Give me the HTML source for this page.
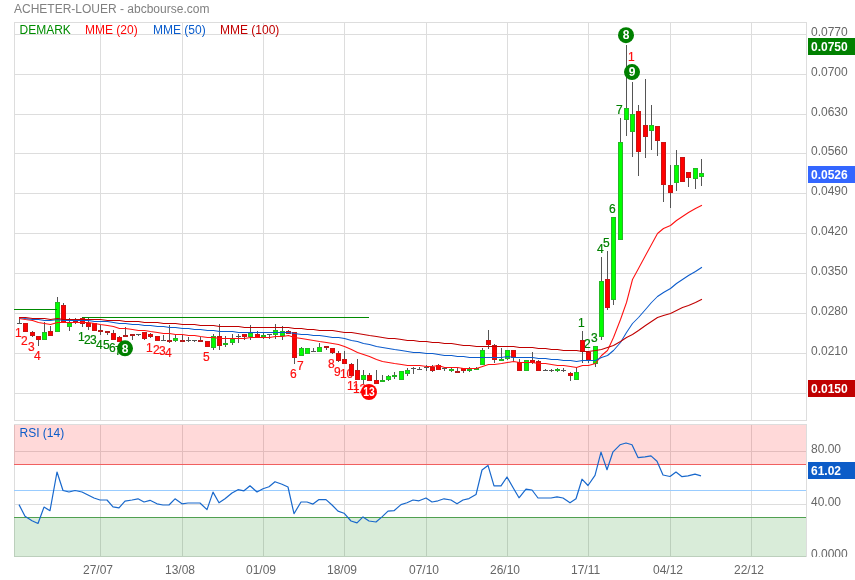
<!DOCTYPE html>
<html><head><meta charset="utf-8"><title>ACHETER-LOUER - abcbourse.com</title>
<style>
html,body{margin:0;padding:0;background:#fff;}
body{width:855px;height:580px;overflow:hidden;font-family:"Liberation Sans",Arial,sans-serif;}
svg{display:block;}
text{font-family:"Liberation Sans",Arial,sans-serif;font-size:12px;}
.ax{fill:#666;}
.g{stroke:#ddd;stroke-width:1;shape-rendering:crispEdges;fill:none;}
.g2{stroke:#000;stroke-opacity:.13;stroke-width:1;shape-rendering:crispEdges;}
.c rect{shape-rendering:crispEdges;}
.w{fill:#555;}
.gb{fill:#26b826;}.gi{fill:#0f0;}.rb{fill:#c81414;}.ri{fill:#f00;}.rs{fill:#b41a1a;}.gs{fill:#1fb41f;}
.ma{fill:none;stroke-width:1.05;stroke-linejoin:round;stroke-linecap:butt;}
.lr{fill:#ff1010;stroke:#ff1010;stroke-width:.2;}.lg{fill:#008000;stroke:#008000;stroke-width:.2;}
.k{fill:#fff;font-weight:bold;text-anchor:middle;}
</style></head><body>
<svg width="855" height="580" viewBox="0 0 855 580">
<rect x="0" y="0" width="855" height="580" fill="#fff"/>
<g id="grid">
<line class="g" x1="100.5" y1="22" x2="100.5" y2="421"/><line class="g" x1="100.5" y1="424" x2="100.5" y2="557"/>
<line class="g" x1="182.5" y1="22" x2="182.5" y2="421"/><line class="g" x1="182.5" y1="424" x2="182.5" y2="557"/>
<line class="g" x1="263.5" y1="22" x2="263.5" y2="421"/><line class="g" x1="263.5" y1="424" x2="263.5" y2="557"/>
<line class="g" x1="344.5" y1="22" x2="344.5" y2="421"/><line class="g" x1="344.5" y1="424" x2="344.5" y2="557"/>
<line class="g" x1="426.5" y1="22" x2="426.5" y2="421"/><line class="g" x1="426.5" y1="424" x2="426.5" y2="557"/>
<line class="g" x1="507.5" y1="22" x2="507.5" y2="421"/><line class="g" x1="507.5" y1="424" x2="507.5" y2="557"/>
<line class="g" x1="588.5" y1="22" x2="588.5" y2="421"/><line class="g" x1="588.5" y1="424" x2="588.5" y2="557"/>
<line class="g" x1="670.5" y1="22" x2="670.5" y2="421"/><line class="g" x1="670.5" y1="424" x2="670.5" y2="557"/>
<line class="g" x1="751.5" y1="22" x2="751.5" y2="421"/><line class="g" x1="751.5" y1="424" x2="751.5" y2="557"/>
<line class="g" x1="14" y1="34.5" x2="806" y2="34.5"/>
<line class="g" x1="14" y1="74.5" x2="806" y2="74.5"/>
<line class="g" x1="14" y1="114.5" x2="806" y2="114.5"/>
<line class="g" x1="14" y1="153.5" x2="806" y2="153.5"/>
<line class="g" x1="14" y1="193.5" x2="806" y2="193.5"/>
<line class="g" x1="14" y1="233.5" x2="806" y2="233.5"/>
<line class="g" x1="14" y1="273.5" x2="806" y2="273.5"/>
<line class="g" x1="14" y1="313.5" x2="806" y2="313.5"/>
<line class="g" x1="14" y1="353.5" x2="806" y2="353.5"/>
<line class="g" x1="14" y1="393.5" x2="806" y2="393.5"/>
<line class="g" x1="14" y1="451.5" x2="806" y2="451.5"/>
<line class="g" x1="14" y1="504.5" x2="806" y2="504.5"/>
<rect x="14.5" y="22.5" width="792" height="398" class="g"/>
<rect x="14.5" y="424.5" width="792" height="132" class="g"/>
<rect x="14" y="425" width="792" height="39.5" fill="#f00" fill-opacity=".15"/>
<rect x="14" y="517.5" width="792" height="39.5" fill="#008000" fill-opacity=".15"/>
<line x1="14" y1="464.5" x2="806" y2="464.5" stroke="#f06060" stroke-width="1" shape-rendering="crispEdges"/>
<line x1="14" y1="490.5" x2="806" y2="490.5" stroke="#9cf" stroke-width="1" shape-rendering="crispEdges"/>
<line x1="14" y1="517.5" x2="806" y2="517.5" stroke="#50a050" stroke-width="1" shape-rendering="crispEdges"/>
</g>
<text x="14" y="13" fill="#808080">ACHETER-LOUER - abcbourse.com</text>
<g stroke-width="0">
<text x="19.5" y="34" fill="#008c00" stroke="#008c00">DEMARK</text>
<text x="85" y="34" fill="#ff0808" stroke="#ff0808">MME (20)</text>
<text x="153" y="34" fill="#0a5ccc" stroke="#0a5ccc">MME (50)</text>
<text x="220" y="34" fill="#c00000" stroke="#c00000">MME (100)</text>
<text x="19.5" y="437.3" fill="#0c5cc8" stroke="#0c5cc8">RSI (14)</text>
</g>
<text class="ax" x="811" y="35.8">0.0770</text>
<text class="ax" x="811" y="75.8">0.0700</text>
<text class="ax" x="811" y="115.8">0.0630</text>
<text class="ax" x="811" y="154.8">0.0560</text>
<text class="ax" x="811" y="194.8">0.0490</text>
<text class="ax" x="811" y="234.8">0.0420</text>
<text class="ax" x="811" y="274.8">0.0350</text>
<text class="ax" x="811" y="314.8">0.0280</text>
<text class="ax" x="811" y="354.8">0.0210</text>
<text class="ax" x="811" y="453">80.00</text>
<text class="ax" x="811" y="506">40.00</text>
<clipPath id="cb"><rect x="800" y="540" width="55" height="17"/></clipPath>
<text class="ax" x="811" y="558.3" clip-path="url(#cb)">0.0000</text>
<text class="ax" x="83" y="574">27/07</text>
<text class="ax" x="165" y="574">13/08</text>
<text class="ax" x="246" y="574">01/09</text>
<text class="ax" x="327" y="574">18/09</text>
<text class="ax" x="409" y="574">07/10</text>
<text class="ax" x="490" y="574">26/10</text>
<text class="ax" x="571" y="574">17/11</text>
<text class="ax" x="653" y="574">04/12</text>
<text class="ax" x="734" y="574">22/12</text>
<rect x="808" y="38" width="47" height="17" fill="#008000"/><text x="811" y="50.8" fill="#fff" font-weight="bold">0.0750</text>
<rect x="808" y="166" width="47" height="17" fill="#3366ff"/><text x="811" y="178.8" fill="#fff" font-weight="bold">0.0526</text>
<rect x="808" y="380" width="47" height="17" fill="#c00000"/><text x="811" y="392.8" fill="#fff" font-weight="bold">0.0150</text>
<rect x="808" y="462" width="47" height="17" fill="#0c5cc8"/><text x="811" y="474.8" fill="#fff" font-weight="bold">61.02</text>
<text class="lr" x="14.9" y="336.5">1</text>
<text class="lr" x="20.9" y="344.7">2</text>
<text class="lr" x="27.9" y="350.7">3</text>
<text class="lr" x="33.9" y="359.6">4</text>
<text class="lg" x="77.9" y="340.9">1</text>
<text class="lg" x="83.9" y="344">2</text>
<text class="lg" x="89.9" y="344.3">3</text>
<text class="lg" x="95.9" y="348.6">4</text>
<text class="lg" x="102.9" y="348.7">5</text>
<text class="lg" x="108.9" y="352.3">6</text>
<text class="lg" x="114.9" y="355.4">7</text>
<text class="lr" x="145.9" y="351.9">1</text>
<text class="lr" x="152.9" y="353.75">2</text>
<text class="lr" x="158.9" y="355">3</text>
<text class="lr" x="164.9" y="357">4</text>
<text class="lr" x="202.9" y="360.6">5</text>
<text class="lr" x="289.9" y="377.6">6</text>
<text class="lr" x="296.9" y="370.2">7</text>
<text class="lr" x="327.9" y="367.6">8</text>
<text class="lr" x="333.9" y="375.9">9</text>
<text class="lr" x="339.9" y="377.7">10</text>
<text class="lr" x="346.9" y="389.7">11</text>
<text class="lr" x="352.9" y="392.6">12</text>
<text class="lg" x="577.9" y="326.9">1</text>
<text class="lg" x="583.9" y="347.5">2</text>
<text class="lg" x="590.9" y="341.5">3</text>
<text class="lg" x="596.9" y="253.3">4</text>
<text class="lg" x="602.9" y="247.1">5</text>
<text class="lg" x="608.9" y="213">6</text>
<text class="lg" x="615.9" y="113.75">7</text>
<text class="lr" x="627.9" y="60.6">1</text>
<g class="c">
<rect class="w" x="19" y="318" width="1" height="6"/><rect class="w" x="17" y="323" width="5" height="1"/>
<rect class="w" x="25" y="323" width="1" height="9"/><rect class="rb" x="23" y="323" width="5" height="9"/><rect class="ri" x="24" y="324" width="3" height="7"/>
<rect class="w" x="32" y="331" width="1" height="6"/><rect class="rb" x="30" y="332" width="5" height="4"/><rect class="ri" x="31" y="333" width="3" height="2"/>
<rect class="w" x="38" y="336" width="1" height="10"/><rect class="rb" x="36" y="336" width="5" height="4"/><rect class="ri" x="37" y="337" width="3" height="2"/>
<rect class="w" x="44" y="322" width="1" height="18"/><rect class="gb" x="42" y="332" width="5" height="8"/><rect class="gi" x="43" y="333" width="3" height="6"/>
<rect class="w" x="50" y="326" width="1" height="10"/><rect class="rb" x="48" y="331" width="5" height="5"/><rect class="ri" x="49" y="332" width="3" height="3"/>
<rect class="w" x="57" y="297" width="1" height="35"/><rect class="gb" x="55" y="302" width="5" height="30"/><rect class="gi" x="56" y="303" width="3" height="28"/>
<rect class="w" x="63" y="303" width="1" height="20"/><rect class="rb" x="61" y="305" width="5" height="18"/><rect class="ri" x="62" y="306" width="3" height="16"/>
<rect class="w" x="69" y="318" width="1" height="13"/><rect class="gb" x="67" y="323" width="5" height="4"/><rect class="gi" x="68" y="324" width="3" height="2"/>
<rect class="w" x="75" y="318" width="1" height="6"/><rect class="rs" x="73" y="320" width="5" height="2"/>
<rect class="w" x="82" y="318" width="1" height="9"/><rect class="rb" x="80" y="318" width="5" height="6"/><rect class="ri" x="81" y="319" width="3" height="4"/>
<rect class="w" x="88" y="318" width="1" height="12"/><rect class="rb" x="86" y="323" width="5" height="4"/><rect class="ri" x="87" y="324" width="3" height="2"/>
<rect class="w" x="94" y="323" width="1" height="8"/><rect class="rb" x="92" y="323" width="5" height="8"/><rect class="ri" x="93" y="324" width="3" height="6"/>
<rect class="w" x="100" y="325" width="1" height="10"/><rect class="rs" x="98" y="330" width="5" height="2"/>
<rect class="w" x="107" y="331" width="1" height="4"/><rect class="rs" x="105" y="331" width="5" height="2"/>
<rect class="w" x="113" y="330" width="1" height="10"/><rect class="rb" x="111" y="333" width="5" height="7"/><rect class="ri" x="112" y="334" width="3" height="5"/>
<rect class="w" x="119" y="336" width="1" height="6"/><rect class="rb" x="117" y="337" width="5" height="5"/><rect class="ri" x="118" y="338" width="3" height="3"/>
<rect class="w" x="125" y="327" width="1" height="10"/><rect class="rs" x="123" y="335" width="5" height="2"/>
<rect class="w" x="132" y="334" width="1" height="6"/><rect class="rs" x="130" y="334" width="5" height="2"/>
<rect class="w" x="138" y="334" width="1" height="2"/><rect class="w" x="136" y="334" width="5" height="1"/>
<rect class="w" x="144" y="332" width="1" height="8"/><rect class="rb" x="142" y="332" width="5" height="7"/><rect class="ri" x="143" y="333" width="3" height="5"/>
<rect class="w" x="150" y="333" width="1" height="5"/><rect class="rb" x="148" y="334" width="5" height="3"/><rect class="ri" x="149" y="335" width="3" height="1"/>
<rect class="w" x="157" y="336" width="1" height="5"/><rect class="rb" x="155" y="336" width="5" height="5"/><rect class="ri" x="156" y="337" width="3" height="3"/>
<rect class="w" x="163" y="335" width="1" height="6"/><rect class="w" x="161" y="340" width="5" height="1"/>
<rect class="w" x="169" y="325" width="1" height="18"/><rect class="rs" x="167" y="340" width="5" height="2"/>
<rect class="w" x="175" y="335" width="1" height="7"/><rect class="gb" x="173" y="338" width="5" height="3"/><rect class="gi" x="174" y="339" width="3" height="1"/>
<rect class="w" x="182" y="334" width="1" height="8"/><rect class="rs" x="180" y="340" width="5" height="2"/>
<rect class="w" x="188" y="337" width="1" height="5"/><rect class="w" x="186" y="340" width="5" height="1"/>
<rect class="w" x="194" y="340" width="1" height="2"/><rect class="w" x="192" y="340" width="5" height="1"/>
<rect class="w" x="200" y="337" width="1" height="5"/><rect class="rs" x="198" y="340" width="5" height="2"/>
<rect class="w" x="207" y="341" width="1" height="6"/><rect class="rb" x="205" y="341" width="5" height="6"/><rect class="ri" x="206" y="342" width="3" height="4"/>
<rect class="w" x="213" y="334" width="1" height="16"/><rect class="gb" x="211" y="336" width="5" height="12"/><rect class="gi" x="212" y="337" width="3" height="10"/>
<rect class="w" x="219" y="324" width="1" height="26"/><rect class="rb" x="217" y="336" width="5" height="10"/><rect class="ri" x="218" y="337" width="3" height="8"/>
<rect class="w" x="225" y="336" width="1" height="11"/><rect class="gs" x="223" y="343" width="5" height="2"/>
<rect class="w" x="232" y="334" width="1" height="11"/><rect class="gb" x="230" y="339" width="5" height="4"/><rect class="gi" x="231" y="340" width="3" height="2"/>
<rect class="w" x="238" y="334" width="1" height="9"/><rect class="w" x="236" y="336" width="5" height="1"/>
<rect class="w" x="244" y="334" width="1" height="6"/><rect class="rb" x="242" y="334" width="5" height="3"/><rect class="ri" x="243" y="335" width="3" height="1"/>
<rect class="w" x="250" y="325" width="1" height="15"/><rect class="gb" x="248" y="333" width="5" height="4"/><rect class="gi" x="249" y="334" width="3" height="2"/>
<rect class="w" x="257" y="331" width="1" height="7"/><rect class="rb" x="255" y="334" width="5" height="4"/><rect class="ri" x="256" y="335" width="3" height="2"/>
<rect class="w" x="263" y="333" width="1" height="6"/><rect class="gs" x="261" y="335" width="5" height="2"/>
<rect class="w" x="269" y="334" width="1" height="5"/><rect class="w" x="267" y="334" width="5" height="1"/>
<rect class="w" x="275" y="324" width="1" height="15"/><rect class="gb" x="273" y="330" width="5" height="5"/><rect class="gi" x="274" y="331" width="3" height="3"/>
<rect class="w" x="282" y="326" width="1" height="14"/><rect class="gb" x="280" y="331" width="5" height="5"/><rect class="gi" x="281" y="332" width="3" height="3"/>
<rect class="w" x="288" y="330" width="1" height="4"/><rect class="rb" x="286" y="331" width="5" height="3"/><rect class="ri" x="287" y="332" width="3" height="1"/>
<rect class="w" x="294" y="332" width="1" height="32"/><rect class="rb" x="292" y="332" width="5" height="26"/><rect class="ri" x="293" y="333" width="3" height="24"/>
<rect class="w" x="301" y="347" width="1" height="9"/><rect class="gb" x="299" y="348" width="5" height="8"/><rect class="gi" x="300" y="349" width="3" height="6"/>
<rect class="w" x="307" y="348" width="1" height="6"/><rect class="gb" x="305" y="348" width="5" height="6"/><rect class="gi" x="306" y="349" width="3" height="4"/>
<rect class="w" x="313" y="348" width="1" height="4"/><rect class="w" x="311" y="351" width="5" height="1"/>
<rect class="w" x="319" y="343" width="1" height="9"/><rect class="gb" x="317" y="347" width="5" height="5"/><rect class="gi" x="318" y="348" width="3" height="3"/>
<rect class="w" x="326" y="346" width="1" height="4"/><rect class="rs" x="324" y="346" width="5" height="2"/>
<rect class="w" x="332" y="348" width="1" height="6"/><rect class="rb" x="330" y="348" width="5" height="5"/><rect class="ri" x="331" y="349" width="3" height="3"/>
<rect class="w" x="338" y="351" width="1" height="11"/><rect class="rb" x="336" y="353" width="5" height="8"/><rect class="ri" x="337" y="354" width="3" height="6"/>
<rect class="w" x="344" y="351" width="1" height="13"/><rect class="rb" x="342" y="359" width="5" height="5"/><rect class="ri" x="343" y="360" width="3" height="3"/>
<rect class="w" x="351" y="363" width="1" height="13"/><rect class="rb" x="349" y="364" width="5" height="12"/><rect class="ri" x="350" y="365" width="3" height="10"/>
<rect class="w" x="357" y="359" width="1" height="21"/><rect class="rb" x="355" y="370" width="5" height="10"/><rect class="ri" x="356" y="371" width="3" height="8"/>
<rect class="w" x="363" y="370" width="1" height="14"/><rect class="gb" x="361" y="375" width="5" height="5"/><rect class="gi" x="362" y="376" width="3" height="3"/>
<rect class="w" x="369" y="373" width="1" height="8"/><rect class="rb" x="367" y="375" width="5" height="6"/><rect class="ri" x="368" y="376" width="3" height="4"/>
<rect class="w" x="376" y="370" width="1" height="14"/><rect class="rb" x="374" y="380" width="5" height="4"/><rect class="ri" x="375" y="381" width="3" height="2"/>
<rect class="w" x="382" y="375" width="1" height="7"/><rect class="gs" x="380" y="380" width="5" height="2"/>
<rect class="w" x="388" y="375" width="1" height="6"/><rect class="gb" x="386" y="376" width="5" height="4"/><rect class="gi" x="387" y="377" width="3" height="2"/>
<rect class="w" x="394" y="372" width="1" height="7"/><rect class="gs" x="392" y="375" width="5" height="2"/>
<rect class="w" x="401" y="371" width="1" height="9"/><rect class="gb" x="399" y="371" width="5" height="9"/><rect class="gi" x="400" y="372" width="3" height="7"/>
<rect class="w" x="407" y="368" width="1" height="8"/><rect class="gb" x="405" y="370" width="5" height="4"/><rect class="gi" x="406" y="371" width="3" height="2"/>
<rect class="w" x="413" y="367" width="1" height="7"/><rect class="w" x="411" y="368" width="5" height="1"/>
<rect class="w" x="419" y="367" width="1" height="3"/><rect class="w" x="417" y="369" width="5" height="1"/>
<rect class="w" x="426" y="365" width="1" height="6"/><rect class="w" x="424" y="367" width="5" height="1"/>
<rect class="w" x="432" y="365" width="1" height="7"/><rect class="rb" x="430" y="367" width="5" height="4"/><rect class="ri" x="431" y="368" width="3" height="2"/>
<rect class="w" x="438" y="364" width="1" height="6"/><rect class="rb" x="436" y="365" width="5" height="5"/><rect class="ri" x="437" y="366" width="3" height="3"/>
<rect class="w" x="444" y="368" width="1" height="3"/><rect class="w" x="442" y="368" width="5" height="1"/>
<rect class="w" x="451" y="368" width="1" height="4"/><rect class="gs" x="449" y="369" width="5" height="2"/>
<rect class="w" x="457" y="368" width="1" height="5"/><rect class="rs" x="455" y="371" width="5" height="2"/>
<rect class="w" x="463" y="368" width="1" height="5"/><rect class="rb" x="461" y="368" width="5" height="3"/><rect class="ri" x="462" y="369" width="3" height="1"/>
<rect class="w" x="469" y="367" width="1" height="5"/><rect class="gs" x="467" y="369" width="5" height="2"/>
<rect class="w" x="476" y="367" width="1" height="3"/><rect class="gs" x="474" y="368" width="5" height="2"/>
<rect class="w" x="482" y="348" width="1" height="17"/><rect class="gb" x="480" y="350" width="5" height="15"/><rect class="gi" x="481" y="351" width="3" height="13"/>
<rect class="w" x="488" y="330" width="1" height="19"/><rect class="rb" x="486" y="340" width="5" height="5"/><rect class="ri" x="487" y="341" width="3" height="3"/>
<rect class="w" x="494" y="344" width="1" height="19"/><rect class="rb" x="492" y="345" width="5" height="15"/><rect class="ri" x="493" y="346" width="3" height="13"/>
<rect class="w" x="501" y="348" width="1" height="13"/><rect class="gs" x="499" y="359" width="5" height="2"/>
<rect class="w" x="507" y="350" width="1" height="10"/><rect class="gb" x="505" y="350" width="5" height="9"/><rect class="gi" x="506" y="351" width="3" height="7"/>
<rect class="w" x="513" y="350" width="1" height="11"/><rect class="rb" x="511" y="350" width="5" height="8"/><rect class="ri" x="512" y="351" width="3" height="6"/>
<rect class="w" x="519" y="359" width="1" height="12"/><rect class="rb" x="517" y="362" width="5" height="9"/><rect class="ri" x="518" y="363" width="3" height="7"/>
<rect class="w" x="526" y="360" width="1" height="11"/><rect class="gb" x="524" y="360" width="5" height="11"/><rect class="gi" x="525" y="361" width="3" height="9"/>
<rect class="w" x="532" y="352" width="1" height="12"/><rect class="rb" x="530" y="360" width="5" height="3"/><rect class="ri" x="531" y="361" width="3" height="1"/>
<rect class="w" x="538" y="360" width="1" height="11"/><rect class="rb" x="536" y="361" width="5" height="10"/><rect class="ri" x="537" y="362" width="3" height="8"/>
<rect class="w" x="545" y="369" width="1" height="2"/><rect class="w" x="543" y="370" width="5" height="1"/>
<rect class="w" x="551" y="369" width="1" height="3"/><rect class="w" x="549" y="370" width="5" height="1"/>
<rect class="w" x="557" y="368" width="1" height="4"/><rect class="gs" x="555" y="369" width="5" height="2"/>
<rect class="w" x="563" y="368" width="1" height="4"/><rect class="w" x="561" y="370" width="5" height="1"/>
<rect class="w" x="570" y="372" width="1" height="9"/><rect class="rb" x="568" y="373" width="5" height="3"/><rect class="ri" x="569" y="374" width="3" height="1"/>
<rect class="w" x="576" y="368" width="1" height="12"/><rect class="gb" x="574" y="372" width="5" height="8"/><rect class="gi" x="575" y="373" width="3" height="6"/>
<rect class="w" x="582" y="331" width="1" height="32"/><rect class="rb" x="580" y="340" width="5" height="12"/><rect class="ri" x="581" y="341" width="3" height="10"/>
<rect class="w" x="588" y="351" width="1" height="12"/><rect class="rb" x="586" y="352" width="5" height="8"/><rect class="ri" x="587" y="353" width="3" height="6"/>
<rect class="w" x="595" y="346" width="1" height="21"/><rect class="gb" x="593" y="346" width="5" height="18"/><rect class="gi" x="594" y="347" width="3" height="16"/>
<rect class="w" x="601" y="257" width="1" height="83"/><rect class="gb" x="599" y="281" width="5" height="56"/><rect class="gi" x="600" y="282" width="3" height="54"/>
<rect class="w" x="607" y="251" width="1" height="59"/><rect class="rb" x="605" y="279" width="5" height="29"/><rect class="ri" x="606" y="280" width="3" height="27"/>
<rect class="w" x="613" y="217" width="1" height="88"/><rect class="gb" x="611" y="217" width="5" height="83"/><rect class="gi" x="612" y="218" width="3" height="81"/>
<rect class="w" x="620" y="118" width="1" height="122"/><rect class="gb" x="618" y="142" width="5" height="98"/><rect class="gi" x="619" y="143" width="3" height="96"/>
<rect class="w" x="626" y="45" width="1" height="91"/><rect class="gb" x="624" y="108" width="5" height="12"/><rect class="gi" x="625" y="109" width="3" height="10"/>
<rect class="w" x="632" y="82" width="1" height="75"/><rect class="gb" x="630" y="114" width="5" height="18"/><rect class="gi" x="631" y="115" width="3" height="16"/>
<rect class="w" x="638" y="105" width="1" height="71"/><rect class="rb" x="636" y="111" width="5" height="41"/><rect class="ri" x="637" y="112" width="3" height="39"/>
<rect class="w" x="645" y="79" width="1" height="79"/><rect class="rb" x="643" y="125" width="5" height="12"/><rect class="ri" x="644" y="126" width="3" height="10"/>
<rect class="w" x="651" y="105" width="1" height="45"/><rect class="gb" x="649" y="125" width="5" height="6"/><rect class="gi" x="650" y="126" width="3" height="4"/>
<rect class="w" x="657" y="126" width="1" height="30"/><rect class="rb" x="655" y="126" width="5" height="15"/><rect class="ri" x="656" y="127" width="3" height="13"/>
<rect class="w" x="663" y="142" width="1" height="60"/><rect class="rb" x="661" y="142" width="5" height="43"/><rect class="ri" x="662" y="143" width="3" height="41"/>
<rect class="w" x="670" y="165" width="1" height="43"/><rect class="rb" x="668" y="185" width="5" height="8"/><rect class="ri" x="669" y="186" width="3" height="6"/>
<rect class="w" x="676" y="150" width="1" height="41"/><rect class="gb" x="674" y="165" width="5" height="18"/><rect class="gi" x="675" y="166" width="3" height="16"/>
<rect class="w" x="682" y="157" width="1" height="25"/><rect class="rb" x="680" y="157" width="5" height="25"/><rect class="ri" x="681" y="158" width="3" height="23"/>
<rect class="w" x="688" y="172" width="1" height="15"/><rect class="rb" x="686" y="172" width="5" height="6"/><rect class="ri" x="687" y="173" width="3" height="4"/>
<rect class="w" x="695" y="168" width="1" height="21"/><rect class="gb" x="693" y="168" width="5" height="11"/><rect class="gi" x="694" y="169" width="3" height="9"/>
<rect class="w" x="701" y="159" width="1" height="27"/><rect class="gb" x="699" y="173" width="5" height="4"/><rect class="gi" x="700" y="174" width="3" height="2"/>
</g>
<path d="M14 309.5H57M82 317.5H369" stroke="#008a00" stroke-width="1" fill="none" shape-rendering="crispEdges"/>
<path class="ma" d="M19.5 318.5 L25.5 319.5 L32.5 320.5 L38.5 322.5 L44.5 323.5 L50.5 324.5 L57.5 322.5 L63.5 322.5 L69.5 322.5 L75.5 322.5 L82.5 322.5 L88.5 322.5 L94.5 323.5 L100.5 324.5 L107.5 325.5 L113.5 326.5 L119.5 328.5 L125.5 328.5 L132.5 329.5 L138.5 330.5 L144.5 330.5 L150.5 331.5 L157.5 332.5 L163.5 333.5 L169.5 333.5 L175.5 334.5 L182.5 334.5 L188.5 335.5 L194.5 335.5 L200.5 336.5 L207.5 337.5 L213.5 337.5 L219.5 338.5 L225.5 338.5 L232.5 338.5 L238.5 338.5 L244.5 338.5 L250.5 337.5 L257.5 337.5 L263.5 337.5 L269.5 337.5 L275.5 336.5 L282.5 336.5 L288.5 335.5 L294.5 337.5 L301.5 338.5 L307.5 339.5 L313.5 340.5 L319.5 341.5 L326.5 342.5 L332.5 343.5 L338.5 344.5 L344.5 346.5 L351.5 349.5 L357.5 352.5 L363.5 354.5 L369.5 356.5 L376.5 359.5 L382.5 361.5 L388.5 362.5 L394.5 363.5 L401.5 364.5 L407.5 365.5 L413.5 365.5 L419.5 365.5 L426.5 366.5 L432.5 366.5 L438.5 365.5 L444.5 367.5 L451.5 367.5 L457.5 367.5 L463.5 368.5 L469.5 368.5 L476.5 368.5 L482.5 366.5 L488.5 364.5 L494.5 364.5 L501.5 363.5 L507.5 362.5 L513.5 361.5 L519.5 362.5 L526.5 362.5 L532.5 362.5 L538.5 363.5 L545.5 363.5 L551.5 364.5 L557.5 365.5 L563.5 365.5 L570.5 366.5 L576.5 367.5 L582.5 365.5 L588.5 365.5 L595.5 363.5 L601.5 355.5 L607.5 350.5 L613.5 337.5 L620.5 319.5 L626.5 302.5 L632.5 279.5 L638.5 268.5 L645.5 255.5 L651.5 244.5 L657.5 233.5 L663.5 228.5 L670.5 225.5 L676.5 220.5 L682.5 216.5 L688.5 212.5 L695.5 208.5 L701.5 205.5" stroke="#ff1010" style="stroke-linecap:square"/>
<path class="ma" d="M19.5 317.5 L25.5 318.5 L32.5 319.5 L38.5 319.5 L44.5 320.5 L50.5 320.5 L57.5 319.5 L63.5 320.5 L69.5 320.5 L75.5 320.5 L82.5 320.5 L88.5 320.5 L94.5 321.5 L100.5 321.5 L107.5 321.5 L113.5 322.5 L119.5 323.5 L125.5 323.5 L132.5 324.5 L138.5 324.5 L144.5 325.5 L150.5 325.5 L157.5 326.5 L163.5 326.5 L169.5 327.5 L175.5 327.5 L182.5 328.5 L188.5 328.5 L194.5 329.5 L200.5 329.5 L207.5 330.5 L213.5 330.5 L219.5 331.5 L225.5 331.5 L232.5 331.5 L238.5 332.5 L244.5 332.5 L250.5 332.5 L257.5 332.5 L263.5 332.5 L269.5 332.5 L275.5 332.5 L282.5 332.5 L288.5 332.5 L294.5 333.5 L301.5 334.5 L307.5 334.5 L313.5 335.5 L319.5 335.5 L326.5 336.5 L332.5 337.5 L338.5 337.5 L344.5 338.5 L351.5 340.5 L357.5 341.5 L363.5 343.5 L369.5 344.5 L376.5 346.5 L382.5 347.5 L388.5 348.5 L394.5 349.5 L401.5 350.5 L407.5 351.5 L413.5 352.5 L419.5 352.5 L426.5 353.5 L432.5 353.5 L438.5 354.5 L444.5 355.5 L451.5 355.5 L457.5 356.5 L463.5 356.5 L469.5 357.5 L476.5 357.5 L482.5 357.5 L488.5 357.5 L494.5 357.5 L501.5 357.5 L507.5 356.5 L513.5 357.5 L519.5 357.5 L526.5 357.5 L532.5 357.5 L538.5 358.5 L545.5 358.5 L551.5 359.5 L557.5 359.5 L563.5 360.5 L570.5 360.5 L576.5 361.5 L582.5 360.5 L588.5 360.5 L595.5 360.5 L601.5 357.5 L607.5 355.5 L613.5 350.5 L620.5 342.5 L626.5 332.5 L632.5 323.5 L638.5 317.5 L645.5 309.5 L651.5 302.5 L657.5 296.5 L663.5 292.5 L670.5 288.5 L676.5 283.5 L682.5 279.5 L688.5 275.5 L695.5 271.5 L701.5 267.5" stroke="#0c5ccc" style="stroke-linecap:square"/>
<path class="ma" d="M19.5 317.5 L25.5 317.5 L32.5 318.5 L38.5 318.5 L44.5 318.5 L50.5 319.5 L57.5 318.5 L63.5 319.5 L69.5 319.5 L75.5 319.5 L82.5 319.5 L88.5 319.5 L94.5 319.5 L100.5 319.5 L107.5 320.5 L113.5 320.5 L119.5 320.5 L125.5 321.5 L132.5 321.5 L138.5 321.5 L144.5 322.5 L150.5 322.5 L157.5 322.5 L163.5 323.5 L169.5 323.5 L175.5 323.5 L182.5 324.5 L188.5 324.5 L194.5 324.5 L200.5 325.5 L207.5 325.5 L213.5 325.5 L219.5 326.5 L225.5 326.5 L232.5 326.5 L238.5 326.5 L244.5 327.5 L250.5 327.5 L257.5 327.5 L263.5 327.5 L269.5 327.5 L275.5 327.5 L282.5 327.5 L288.5 327.5 L294.5 328.5 L301.5 328.5 L307.5 329.5 L313.5 329.5 L319.5 330.5 L326.5 330.5 L332.5 330.5 L338.5 331.5 L344.5 332.5 L351.5 332.5 L357.5 333.5 L363.5 334.5 L369.5 335.5 L376.5 336.5 L382.5 337.5 L388.5 338.5 L394.5 338.5 L401.5 339.5 L407.5 340.5 L413.5 340.5 L419.5 341.5 L426.5 341.5 L432.5 342.5 L438.5 342.5 L444.5 343.5 L451.5 343.5 L457.5 344.5 L463.5 345.5 L469.5 345.5 L476.5 346.5 L482.5 346.5 L488.5 346.5 L494.5 346.5 L501.5 346.5 L507.5 346.5 L513.5 346.5 L519.5 347.5 L526.5 347.5 L532.5 347.5 L538.5 348.5 L545.5 348.5 L551.5 349.5 L557.5 349.5 L563.5 350.5 L570.5 350.5 L576.5 350.5 L582.5 351.5 L588.5 351.5 L595.5 350.5 L601.5 349.5 L607.5 347.5 L613.5 345.5 L620.5 341.5 L626.5 337.5 L632.5 334.5 L638.5 330.5 L645.5 325.5 L651.5 321.5 L657.5 317.5 L663.5 315.5 L670.5 313.5 L676.5 310.5 L682.5 307.5 L688.5 305.5 L695.5 302.5 L701.5 299.5" stroke="#c00000" style="stroke-linecap:square"/>
<path class="ma" d="M19 504.6 L25 516.2 L32 520.7 L38 523.5 L44 507.1 L50 510.7 L57 472 L63 490.5 L69 492 L75 490.5 L82 492 L88 495 L94 498 L100 500 L107 500 L113 506.9 L119 507.9 L125 501.1 L132 500 L138 498.8 L144 502 L150 500.3 L157 503.8 L163 505 L169 505 L175 498.8 L182 503.8 L188 503 L194 503 L200 503 L207 509.6 L213 492.1 L219 502.8 L225 498.8 L232 493 L238 489.7 L244 490.8 L250 485.8 L257 492 L263 488.8 L269 486.7 L275 481.7 L282 484.2 L288 487 L294 513.7 L301 502 L307 502 L313 504.1 L319 499.6 L326 499.6 L332 505 L338 511.1 L344 513.2 L351 521 L357 522.9 L363 516.9 L369 521 L376 522 L382 516.9 L388 511.1 L394 510.7 L401 504.6 L407 502.8 L413 500 L419 500.8 L426 498 L432 502 L438 500.8 L444 498.8 L451 500 L457 503.8 L463 500 L469 498.6 L476 494.6 L482 470 L488 465.4 L494 485.8 L501 485.8 L507 477 L513 487.5 L519 497.8 L526 489.2 L532 490 L538 498 L545 498 L551 498 L557 496.8 L563 498 L570 502.8 L576 498.8 L582 479.2 L588 485.5 L595 475.4 L601 452.1 L607 469.7 L613 451.8 L620 444.8 L626 443 L632 444.8 L638 457.6 L645 456.8 L651 455.9 L657 461.2 L663 475 L670 476.5 L676 472 L682 476.7 L688 475.9 L695 474.2 L701 475.9" stroke="#1868cc" style="stroke-width:1.2"/>
<circle cx="125" cy="348.3" r="8" fill="#008000"/><text class="k" x="125" y="352.5">8</text>
<circle cx="369" cy="392" r="8" fill="#ff0000"/><text class="k" x="369" y="396.2" textLength="11.5" lengthAdjust="spacingAndGlyphs">13</text>
<circle cx="626" cy="35.2" r="8" fill="#008000"/><text class="k" x="626" y="39.4">8</text>
<circle cx="632" cy="72.1" r="8" fill="#008000"/><text class="k" x="632" y="76.3">9</text>
</svg>
</body></html>
